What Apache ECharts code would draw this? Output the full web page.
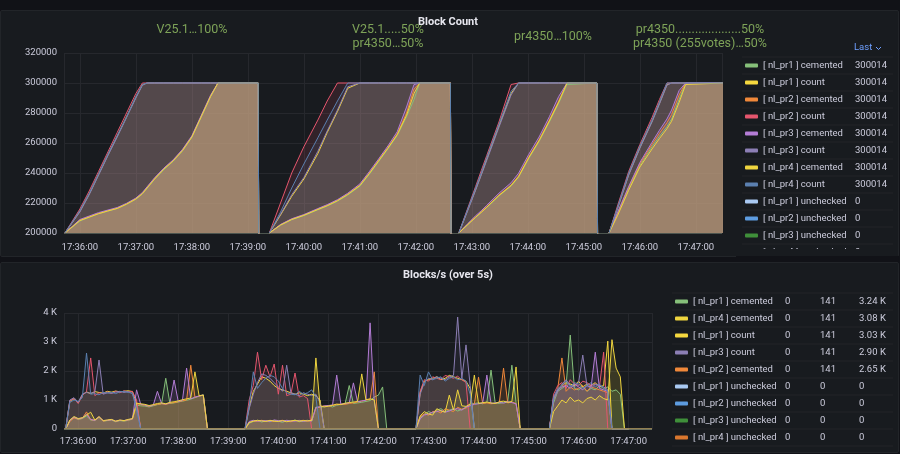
<!DOCTYPE html>
<html lang="en">
<head>
<meta charset="UTF-8">
<title>Block Count</title>
<style>
    html, body {margin: 0; padding: 0; background: #111217;}
    .wrap {position: relative; width: 900px; height: 454px; overflow: hidden;}
    .panel {position: absolute; background: #181b1f; border: 1px solid #222529; box-sizing: border-box; border-radius: 2px;}
    #chart {position: absolute; left: 0; top: 0; width: 900px; height: 454px;}
</style>
</head>
<body>
<div class="wrap">
    <div class="panel" style="left:0;top:10px;width:899px;height:247px;"></div>
    <div class="panel" style="left:0;top:262px;width:899px;height:191px;"></div>
    <div id="chart"></div>
</div>

<script src="https://cdn.jsdelivr.net/npm/echarts@6/dist/echarts.min.js"></script>
<script>
// times are seconds relative to 17:36:00
const BASE = new Date(2024, 0, 1, 17, 36, 0).getTime();
const X_MIN = -17, X_MAX = 688;
const P = 300014;

const seriesNames = [
    '[ nl_pr1 ] cemented', '[ nl_pr1 ] count', '[ nl_pr2 ] cemented', '[ nl_pr2 ] count',
    '[ nl_pr3 ] cemented', '[ nl_pr3 ] count', '[ nl_pr4 ] cemented', '[ nl_pr4 ] count',
    '[ nl_pr1 ] unchecked', '[ nl_pr2 ] unchecked', '[ nl_pr3 ] unchecked', '[ nl_pr4 ] unchecked'
];
const seriesColors = [
    '#86C07A', '#F5D83F', '#F0883A', '#E5566E',
    '#B47DD6', '#8C7FB5', '#EFD53F', '#5B80B0',
    '#A9C9F2', '#5D9CE0', '#3F8F3A', '#D9772E'
];

// ---- Block Count (top) ----
const topTimes = [
    [-16, 0, 10, 20, 30, 40, 50, 60, 67, 72, 80, 90, 100, 110, 120, 130, 140, 148, 191, 193],
    [203, 215, 227, 240, 255, 265, 276, 287, 300, 310, 320, 330, 340, 350, 358, 364, 397, 399],
    [406, 415, 424, 430, 436, 449, 462, 470, 481, 492, 503, 513, 522, 554, 556],
    [567, 576, 588, 600, 613, 621, 629, 634, 642, 649, 690]
];
const topPr1Cemented = [
    [200000,208000,210500,212800,214600,216300,219000,222500,226000,229800,235800,242300,247800,254800,263800,277200,290800,P,P,0],
    [200000,205200,208900,211600,215500,218000,221200,225300,231200,239000,247500,256000,265000,277500,289000,P,P,0],
    [200000,205200,210300,213600,217000,224700,231300,237200,249700,261000,274000,286500,299000,P,0],
    [200000,212500,229500,245000,257500,264500,271000,276000,289000,P,P]
];
const topPr1Count = [
    [200000,214500,226000,239000,252000,264500,277500,290500,298800,P,P,P,P,P,P,P,P,P,P,0],
    [200000,212000,224500,236000,253000,267000,281000,296500,P,P,P,P,P,P,P,P,P,0],
    [200000,214500,229000,239000,249500,271500,293000,P,P,P,P,P,P,P,0],
    [200000,216500,239000,257000,274500,286500,299000,P,P,P,P]
];
const topPr2Cemented = [
    [200000,208500,210800,213000,214900,216500,219200,222800,226400,230200,236200,242800,248300,255300,264300,277800,291300,P,P,0],
    [200000,205500,209300,212000,216000,218500,221800,226000,232000,240000,248500,257000,266000,280000,296000,P,P,0],
    [200000,205500,210700,214000,217500,225300,232000,238000,250700,262000,275300,288000,P,P,0],
    [200000,213000,230500,246000,259000,266500,273500,279000,292000,P,P]
];
const topPr2Count = [
    [200000,216000,228000,241000,254000,267000,280000,293000,P,P,P,P,P,P,P,P,P,P,P,0],
    [200000,220000,240000,257500,275300,288000,P,P,P,P,P,P,P,P,P,P,P,0],
    [200000,215500,231000,241500,251800,274000,299000,P,P,P,P,P,P,P,0],
    [200000,218000,241000,259000,277000,289000,P,P,P,P,P]
];
const topPr3Cemented = [
    [200000,209000,211300,213600,215300,217000,219800,223300,227000,230800,236800,243300,248800,255800,264800,278300,291800,P,P,0],
    [200000,205700,209500,212300,216300,218900,222200,226500,232700,240800,249300,258000,267500,284000,299000,P,P,0],
    [200000,205900,211500,214800,218500,226500,233500,239800,252500,264000,277500,291000,P,P,0],
    [200000,213500,231000,247000,260500,268500,276000,282000,295000,P,P]
];
const topPr3Count = [
    [200000,214000,225500,238500,251500,264000,277000,290000,298500,P,P,P,P,P,P,P,P,P,P,0],
    [200000,212500,225500,237000,254500,268000,282000,297500,P,P,P,P,P,P,P,P,P,0],
    [200000,214000,228500,238500,248500,270500,292000,P,P,P,P,P,P,P,0],
    [200000,216000,238500,256500,274000,286000,298500,P,P,P,P]
];
const topPr4Cemented = [
    [200000,208300,210600,212900,214700,216400,219300,222700,226300,230000,236000,242600,248100,255000,264000,277500,291000,P,P,0],
    [200000,205300,209000,211800,215700,218200,221500,225700,231600,239500,248000,256500,265500,278500,293000,P,P,0],
    [200000,205300,210500,213800,217200,225000,231600,237500,250200,261500,274600,287200,P,P,0],
    [200000,211500,228500,244000,256000,263000,269500,274500,287000,299000,P]
];
const topPr4Count = [
    [200000,215000,226500,239500,252500,265000,277500,291000,299000,P,P,P,P,P,P,P,P,P,P,0],
    [200000,214000,230000,246000,263500,275300,288000,P,P,P,P,P,P,P,P,P,P,0],
    [200000,215000,230000,240000,250500,272500,294500,P,P,P,P,P,P,P,0],
    [200000,217000,240000,258000,275300,287500,P,P,P,P,P]
];
const topLegendLast = ['300014','300014','300014','300014','300014','300014','300014','300014','0','0','0','0'];

// ---- Blocks/s (bottom), one value every 5 s from each segment start ----
const botStarts = [-15, 200, 405, 565];
const botStep = 5;
const botPr1Cemented = [
    [0,280,400,330,360,450,310,290,400,270,290,310,250,290,270,300,340,820,800,790,760,800,840,870,1750,880,900,930,960,990,1030,1080,1130,1180,0],
    [0,200,260,300,240,280,250,300,270,230,290,260,310,250,280,300,270,760,740,780,800,760,820,850,870,1500,880,900,920,950,980,1100,1170,1450,0,0],
    [0,400,500,600,550,650,700,600,650,700,620,680,750,850,880,900,870,920,2030,900,880,920,950,2200,900,0,0],
    [0,900,1300,1400,1500,3240,1400,1350,1450,1300,1400,1350,1500,1400,1450,1300,1350,1200,0,0]
];
const botPr1Count = [
    [0,960,1040,900,1180,1280,1220,1290,1260,1240,1300,1270,1310,1280,1300,1320,1290,900,0,0,0,0,0,0,0,0,0,0,0,0,0,0,0,0,0],
    [0,750,1300,1550,1800,1750,1650,1500,1400,1350,1300,1250,1200,1250,1200,1150,1200,1150,1000,0,0,0,0,0,0,0,0,0,0,0,0,0,0,0,0,0],
    [0,1250,1650,1700,1750,1800,1700,1750,1850,1800,1750,1700,1650,1400,0,0,0,0,0,0,0,0,0,0,0,0,0],
    [0,1050,1350,1500,1600,1550,1500,1650,1450,1550,1500,1600,1450,1500,3030,0,0,0,0,0]
];
const botPr2Cemented = [
    [0,260,380,340,370,590,320,300,410,270,300,320,260,300,280,310,340,870,840,820,780,820,850,870,850,890,910,940,970,1000,2200,1090,1140,1160,0],
    [0,230,280,260,300,270,290,260,280,300,270,250,290,280,300,270,290,720,760,800,780,810,840,860,850,880,900,930,960,1000,1020,1970,0,0,0,0],
    [0,420,520,480,600,620,550,700,650,600,750,680,720,830,860,1790,880,900,870,890,920,2100,900,930,880,0,0],
    [0,1000,1400,2450,1300,1450,1350,1400,1500,1300,1450,1400,1350,1300,1250,0,0,0,0,0]
];
const botPr2Count = [
    [0,980,1050,880,1150,1300,2450,1150,1250,1220,1280,1230,1300,1250,1320,1280,1300,1000,0,0,0,0,0,0,0,0,0,0,0,0,0,0,0,0,0],
    [0,1000,1500,2650,1700,2200,1800,2240,1200,2200,1150,1200,1930,1100,1150,1050,0,0,0,0,0,0,0,0,0,0,0,0,0,0,0,0,0,0,0,0],
    [0,1300,1700,1650,1800,1750,1700,1850,1800,1750,1820,1700,1600,0,0,0,0,0,0,0,0,0,0,0,0,0,0],
    [0,1200,1500,1600,1400,1700,1550,1500,1650,1600,1500,1550,1450,2650,0,0,0,0,0,0]
];
const botPr3Cemented = [
    [0,290,410,350,380,510,330,300,420,290,300,320,270,300,290,320,350,1350,850,830,790,820,1300,880,860,900,1690,950,990,2100,1040,1100,1140,1170,0],
    [0,260,300,270,280,290,260,310,290,270,300,280,270,300,260,290,280,740,770,790,810,830,1860,850,880,900,1590,940,970,990,3660,980,0,0,0,0],
    [0,350,480,520,580,600,640,580,620,680,700,650,760,800,850,870,900,1860,880,900,920,890,940,910,870,0,0],
    [0,1100,1350,1450,1500,1400,1550,1450,1350,1500,1450,2650,1400,1350,1300,0,0,0,0,0]
];
const botPr3Count = [
    [0,1000,1080,920,1200,1260,1230,1280,2380,1200,1250,1230,1270,1300,1260,1290,1220,800,0,0,0,0,0,0,0,0,0,0,0,0,0,0,0,0,0],
    [0,700,1200,1600,1900,1850,1750,1600,1450,1300,2200,1250,1200,1150,1250,1200,1150,1200,900,0,0,0,0,0,0,0,0,0,0,0,0,0,0,0,0,0],
    [0,1200,1600,1750,1700,1800,1750,1700,1800,1850,3860,1750,2900,1500,0,0,0,0,0,0,0,0,0,0,0,0,0],
    [0,1000,1300,1550,1700,1500,1450,1600,2550,1500,1400,1550,1500,1450,1350,0,0,0,0,0]
];
const botPr4Cemented = [
    [0,310,430,360,390,480,580,310,430,290,310,330,270,310,290,330,360,890,870,850,810,840,880,900,870,920,940,970,1010,1040,1070,1970,1150,1170,0],
    [0,220,270,300,280,260,300,270,260,290,250,280,300,270,290,280,300,2450,800,760,790,820,860,840,890,910,930,950,1900,1010,1040,1000,0,0,0,0],
    [0,450,600,520,480,700,620,580,1170,650,1350,800,780,860,1860,880,910,930,900,880,940,960,920,950,2140,0,0],
    [0,600,800,1000,900,1100,950,1000,900,1050,1100,1000,1150,1050,1000,3080,2100,1800,0,0]
];
const botPr4Count = [
    [0,920,1000,950,1080,2620,1200,1220,1180,1260,1240,1270,1220,1280,1300,1260,1240,650,0,0,0,0,0,0,0,0,0,0,0,0,0,0,0,0,0],
    [0,800,1970,1400,1600,1750,1850,1800,1650,1400,1250,1200,1180,1300,1200,1250,1350,1100,0,0,0,0,0,0,0,0,0,0,0,0,0,0,0,0,0,0],
    [0,1860,1500,1970,1700,1750,1800,1650,1750,1800,1700,1750,1650,1200,0,0,0,0,0,0,0,0,0,0,0,0,0],
    [0,1100,1400,1500,1650,1450,1600,1550,1400,1500,1600,1450,1550,1400,1300,0,0,0,0,0]
];
const botLegendNames = [
    '[ nl_pr1 ] cemented', '[ nl_pr4 ] cemented', '[ nl_pr1 ] count', '[ nl_pr3 ] count', '[ nl_pr2 ] cemented',
    '[ nl_pr1 ] unchecked', '[ nl_pr2 ] unchecked', '[ nl_pr3 ] unchecked', '[ nl_pr4 ] unchecked'
];
const botLegendMin = ['0','0','0','0','0','0','0','0','0'];
const botLegendMean = ['141','141','141','141','141','0','0','0','0'];
const botLegendMax = ['3.24 K','3.08 K','3.03 K','2.90 K','2.65 K','0','0','0','0'];

const topValues = [topPr1Cemented, topPr1Count, topPr2Cemented, topPr2Count, topPr3Cemented, topPr3Count, topPr4Cemented, topPr4Count];
const botValues = [botPr1Cemented, botPr1Count, botPr2Cemented, botPr2Count, botPr3Cemented, botPr3Count, botPr4Cemented, botPr4Count];

// helpers
function topData(values) {
    const out = [];
    topTimes.forEach((seg, s) => {
        seg.forEach((t, i) => out.push([BASE + t * 1000, values[s][i]]));
        out.push([BASE + (seg[seg.length - 1] + 3) * 1000, '-']);
    });
    return out;
}
function botData(values) {
    const out = [];
    botStarts.forEach((start, s) => {
        values[s].forEach((v, i) => out.push([BASE + (start + botStep * i) * 1000, v]));
    });
    return out;
}
const flatZero = [[BASE + X_MIN * 1000, 0], [BASE + X_MAX * 1000, 0]];

function hms(v) {
    const d = new Date(v);
    return [d.getHours(), d.getMinutes(), d.getSeconds()].map(n => String(n).padStart(2, '0')).join(':');
}

// count series are the fast ones, their fill is lighter
const isCount = name => name.indexOf('count') >= 0;

const series = [];
seriesNames.forEach((name, k) => {
    series.push({
        name: name, type: 'line', xAxisIndex: 0, yAxisIndex: 0,
        showSymbol: false, symbol: 'none', color: seriesColors[k],
        lineStyle: {width: 1},
        areaStyle: {opacity: isCount(name) ? 0.13 : 0.25},
        data: k < 8 ? topData(topValues[k]) : flatZero
    });
});
seriesNames.forEach((name, k) => {
    series.push({
        name: name, type: 'line', xAxisIndex: 1, yAxisIndex: 1,
        showSymbol: false, symbol: 'none', color: seriesColors[k],
        lineStyle: {width: 1},
        areaStyle: {opacity: isCount(name) ? 0.09 : 0.16},
        data: k < 8 ? botData(botValues[k]) : flatZero
    });
});

const labelColor = '#ccccdc';
const gridColor = '#26282d';
const font = 'Roboto';

function xAxisFor(idx, margin) {
    return {
        gridIndex: idx, type: 'time',
        min: BASE + X_MIN * 1000, max: BASE + X_MAX * 1000,
        minInterval: 60000, maxInterval: 60000,
        axisLine: {show: false}, axisTick: {show: false},
        axisLabel: {color: labelColor, fontSize: 9.5, fontFamily: font, margin: margin, formatter: hms},
        splitLine: {show: true, lineStyle: {color: gridColor, width: 1}}
    };
}

// decoration: legend row separators
const graphics = [];
for (let k = 0; k <= 11; k++) {
    graphics.push({type: 'line', shape: {x1: 742, y1: 57 + 17 * k, x2: 893, y2: 57 + 17 * k},
        style: {stroke: '#222429', lineWidth: 1}, z: 1});
}
for (let k = 0; k <= 9; k++) {
    graphics.push({type: 'line', shape: {x1: 672, y1: 293 + 17 * k, x2: 893, y2: 293 + 17 * k},
        style: {stroke: '#222429', lineWidth: 1}, z: 1});
}
// clip of the top legend at the panel bottom
graphics.push({type: 'rect', shape: {x: 736, y: 249, width: 162, height: 7}, style: {fill: '#181b1f'}, z: 100});
graphics.push({type: 'rect', shape: {x: 736, y: 256, width: 164, height: 6}, style: {fill: '#111217'}, z: 100});

const titles = [
    {text: 'Block Count', x: 448, y: 22},
    {text: 'Blocks/s (over 5s)', x: 448, y: 275}
];
titles.forEach(t => graphics.push({type: 'text', x: t.x, y: t.y, z: 10,
    style: {text: t.text, fill: '#e6e6ee', font: 'bold 11px Roboto', align: 'center', verticalAlign: 'middle'}}));

const notes = [
    {text: 'V25.1…100%', x: 192, y: 30},
    {text: 'V25.1.....50%', x: 388, y: 30},
    {text: 'pr4350…50%', x: 388, y: 44},
    {text: 'pr4350…100%', x: 553, y: 37},
    {text: 'pr4350....................50%', x: 700, y: 30},
    {text: 'pr4350 (255votes)…50%', x: 700, y: 44}
];
notes.forEach(t => graphics.push({type: 'text', x: t.x, y: t.y, z: 10,
    style: {text: t.text, fill: '#7ea358', font: '12.5px Roboto', align: 'center', verticalAlign: 'middle'}}));

graphics.push({type: 'text', x: 854, y: 48, z: 10,
    style: {text: 'Last', fill: '#6e9fff', font: '9.5px Roboto', align: 'left', verticalAlign: 'middle'}});
graphics.push({type: 'polyline', z: 10, shape: {points: [[876, 47], [878.5, 49.5], [881, 47]]},
    style: {stroke: '#6e9fff', lineWidth: 1, fill: null}});

const chart = echarts.init(document.getElementById('chart'));
chart.setOption({
    backgroundColor: 'transparent',
    animation: false,
    textStyle: {fontFamily: font},
    grid: [
        {left: 64, right: 178, top: 53, bottom: 221},
        {left: 64, right: 248, top: 313, bottom: 25}
    ],
    xAxis: [xAxisFor(0, 10), xAxisFor(1, 8)],
    yAxis: [
        {gridIndex: 0, type: 'value', min: 200000, max: 320000, interval: 20000,
            axisLine: {show: false}, axisTick: {show: false},
            axisLabel: {color: labelColor, fontSize: 9.5, fontFamily: font, margin: 7, formatter: v => String(v)},
            splitLine: {lineStyle: {color: gridColor}}},
        {gridIndex: 1, type: 'value', min: 0, max: 4000, interval: 1000,
            axisLine: {show: false}, axisTick: {show: false},
            axisLabel: {color: labelColor, fontSize: 9.5, fontFamily: font, margin: 7,
                formatter: v => v === 0 ? '0' : (v / 1000) + ' K'},
            splitLine: {lineStyle: {color: gridColor}}}
    ],
    legend: [
        {
            orient: 'vertical', left: 745, top: 57, padding: 0, itemGap: 0, itemWidth: 13, itemHeight: 4,
            icon: 'roundRect', selectedMode: false, data: seriesNames,
            formatter: name => `{n|${name}}{v|${topLegendLast[seriesNames.indexOf(name)]}}`,
            textStyle: {color: labelColor, fontSize: 9.5, fontFamily: font, lineHeight: 17,
                rich: {
                    n: {width: 92, color: labelColor, fontSize: 9.5, fontFamily: font, lineHeight: 17},
                    v: {width: 36, color: labelColor, fontSize: 9.5, fontFamily: font, lineHeight: 17}
                }}
        },
        {
            orient: 'vertical', left: 675, top: 293, height: 160, padding: 0, itemGap: 0, itemWidth: 13, itemHeight: 4,
            icon: 'roundRect', selectedMode: false, data: botLegendNames,
            formatter: name => {
                const i = botLegendNames.indexOf(name);
                return `{n|${name}}{a|${botLegendMin[i]}}{b|${botLegendMean[i]}}{c|${botLegendMax[i]}}`;
            },
            textStyle: {color: labelColor, fontSize: 9.5, fontFamily: font, lineHeight: 17,
                rich: {
                    n: {width: 92, color: labelColor, fontSize: 9.5, fontFamily: font, lineHeight: 17},
                    a: {width: 35, color: labelColor, fontSize: 9.5, fontFamily: font, lineHeight: 17},
                    b: {width: 39, color: labelColor, fontSize: 9.5, fontFamily: font, lineHeight: 17},
                    c: {width: 30, color: labelColor, fontSize: 9.5, fontFamily: font, lineHeight: 17}
                }}
        }
    ],
    graphic: graphics,
    series: series
});
</script>
</body>
</html>
